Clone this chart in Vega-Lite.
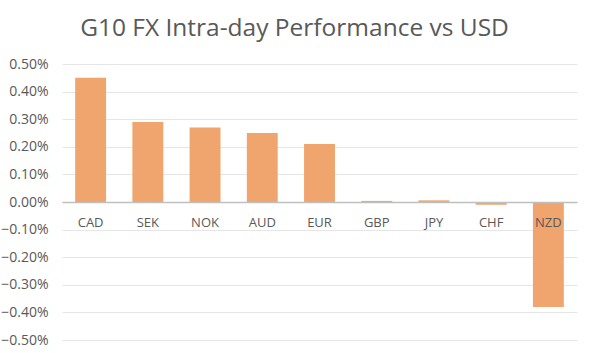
{
  "$schema": "https://vega.github.io/schema/vega-lite/v6.json",
  "width": 515,
  "height": 276,
  "autosize": {"type": "none"},
  "padding": {"left": 62, "top": 64, "right": 14, "bottom": 13},
  "background": "white",
  "title": {
    "text": "G10 FX Intra-day Performance vs USD",
    "font": "Open Sans",
    "fontSize": 24.5,
    "fontWeight": "normal",
    "color": "#595959",
    "anchor": "middle",
    "frame": "group",
    "dx": -25,
    "offset": 16
  },
  "data": {
    "values": [
      {"ccy": "CAD", "v": 0.0045},
      {"ccy": "SEK", "v": 0.0029},
      {"ccy": "NOK", "v": 0.0027},
      {"ccy": "AUD", "v": 0.0025},
      {"ccy": "EUR", "v": 0.0021},
      {"ccy": "GBP", "v": 0.00004},
      {"ccy": "JPY", "v": 0.00006},
      {"ccy": "CHF", "v": -0.0001},
      {"ccy": "NZD", "v": -0.0038}
    ]
  },
  "mark": {"type": "bar", "color": "#F0A46E"},
  "encoding": {
    "x": {
      "field": "ccy",
      "type": "nominal",
      "sort": null,
      "scale": {"paddingInner": 0.46, "paddingOuter": 0.23},
      "axis": {
        "title": null,
        "orient": "bottom",
        "offset": -138,
        "zindex": 1,
        "labelAngle": 0,
        "ticks": false,
        "domainColor": "#BFBFBF",
        "domainWidth": 1.5,
        "labelPadding": 14,
        "labelFont": "Open Sans",
        "labelFontSize": 13,
        "labelColor": "#595959"
      }
    },
    "y": {
      "field": "v",
      "type": "quantitative",
      "scale": {"domain": [-0.005, 0.005], "nice": false},
      "axis": {
        "title": null,
        "format": ".2%",
        "values": [-0.005, -0.004, -0.003, -0.002, -0.001, 0, 0.001, 0.002, 0.003, 0.004, 0.005],
        "domain": false,
        "ticks": false,
        "gridColor": "#E6E6E6",
        "labelFont": "Open Sans",
        "labelFontSize": 14,
        "labelColor": "#595959",
        "labelPadding": 14
      }
    }
  },
  "config": {"view": {"stroke": null}}
}
